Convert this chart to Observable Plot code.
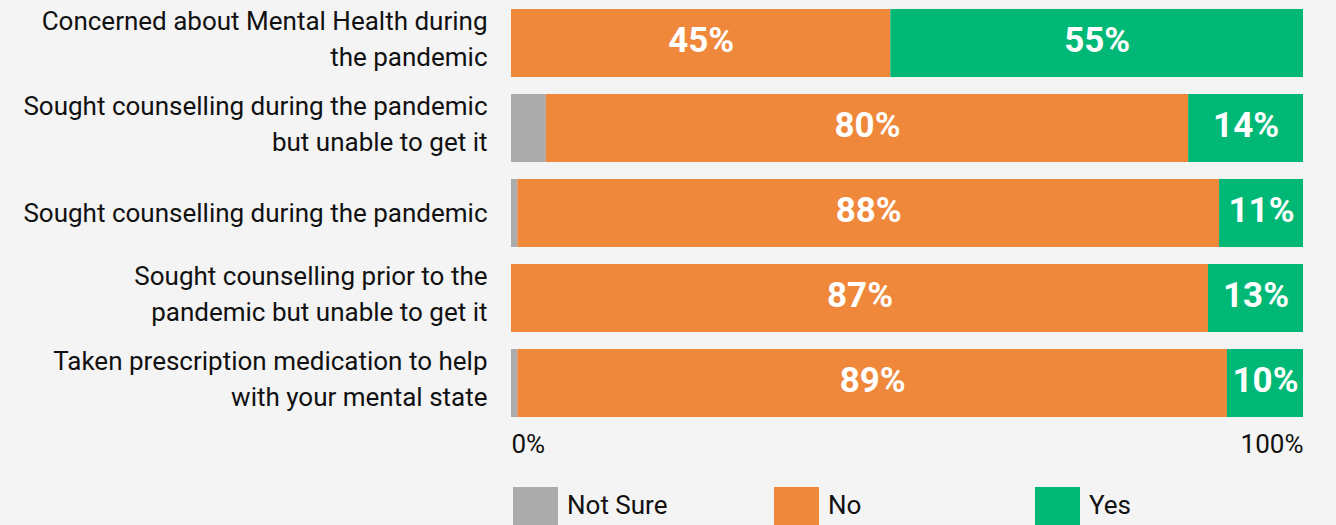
<!DOCTYPE html>
<html>
<head>
<meta charset="utf-8">
<script src="https://cdn.jsdelivr.net/npm/d3@7"></script>
<script src="https://cdn.jsdelivr.net/npm/@observablehq/plot@0.6"></script>
<style>
  html, body { margin: 0; padding: 0; background: #f4f4f4; overflow: hidden; width: 1336px; height: 525px; }
  #chart svg { display: block; }
  .legend { display: flex; padding-left: 513px; margin-top: 21px; font-family: Roboto, sans-serif; font-size: 26px; color: #111; }
  .item { display: flex; align-items: flex-start; width: 261px; gap: 9px; }
  .sw { width: 45px; height: 45px; flex: none; }
  .lab { line-height: 36px; }
</style>
</head>
<body>
<div id="chart"></div>
<script>
const categories = [
  "Concerned about Mental Health during\nthe pandemic",
  "Sought counselling during the pandemic\nbut unable to get it",
  "Sought counselling during the pandemic",
  "Sought counselling prior to the\npandemic but unable to get it",
  "Taken prescription medication to help\nwith your mental state"
];
const responses = ["Not Sure", "No", "Yes"];
const notSureValues = [0, 4.4, 0.8, 0, 0.8];
const noValues = [47.9, 81.1, 88.6, 88.0, 89.6];
const yesValues = [52.1, 14.5, 10.6, 12.0, 9.6];
const notSureLabels = ["", "", "", "", ""];
const noLabels = ["45%", "80%", "88%", "87%", "89%"];
const yesLabels = ["55%", "14%", "11%", "13%", "10%"];
const colors = ["#ABABAB", "#EF883B", "#00B876"];
const xTicks = [0, 100];

const series = [
  [notSureValues, notSureLabels],
  [noValues, noLabels],
  [yesValues, yesLabels]
];
const table = [];
categories.forEach((q, i) => {
  responses.forEach((r, j) => {
    table.push({question: q, response: r, value: series[j][0][i], label: series[j][1][i]});
  });
});

const labelStyle = {y: d => d, text: d => d, frameAnchor: "left", textAnchor: "end", dx: -24,
  fontSize: 26, lineHeight: 1.38, fill: "#111"};

const chart = Plot.plot({
  width: 1336,
  height: 466,
  marginLeft: 511,
  marginRight: 33,
  marginTop: 0,
  marginBottom: 40,
  style: {background: "#f4f4f4", fontFamily: "Roboto, sans-serif", color: "#111"},
  x: {domain: [0, 100], axis: null},
  y: {domain: categories, axis: null, paddingInner: 0.2, paddingOuter: 0.1},
  color: {domain: responses, range: colors},
  marks: [
    Plot.barX(table, Plot.stackX({x: "value", y: "question", fill: "response", order: responses})),
    Plot.text(table, Plot.stackX({x: "value", y: "question", z: "response", text: "label", order: responses,
      fill: "white", fontSize: 35, fontWeight: "bold", dy: -3})),
    Plot.text(categories.filter(d => d.includes("\n")), {...labelStyle, dy: -7}),
    Plot.text(categories.filter(d => !d.includes("\n")), {...labelStyle, dy: -3}),
    Plot.text(xTicks.slice(0, 1), {x: d => d, text: d => d + "%", frameAnchor: "bottom", lineAnchor: "middle",
      textAnchor: "start", dy: 18, fontSize: 26, fill: "#111"}),
    Plot.text(xTicks.slice(1), {x: d => d, text: d => d + "%", frameAnchor: "bottom", lineAnchor: "middle",
      textAnchor: "end", dy: 18, fontSize: 26, fill: "#111"})
  ]
});
document.getElementById("chart").appendChild(chart);

const legend = d3.select("body").append("div").attr("class", "legend");
responses.forEach((r, i) => {
  const it = legend.append("div").attr("class", "item");
  it.append("div").attr("class", "sw").style("background", colors[i]);
  it.append("div").attr("class", "lab").text(r);
});
</script>
</body>
</html>
